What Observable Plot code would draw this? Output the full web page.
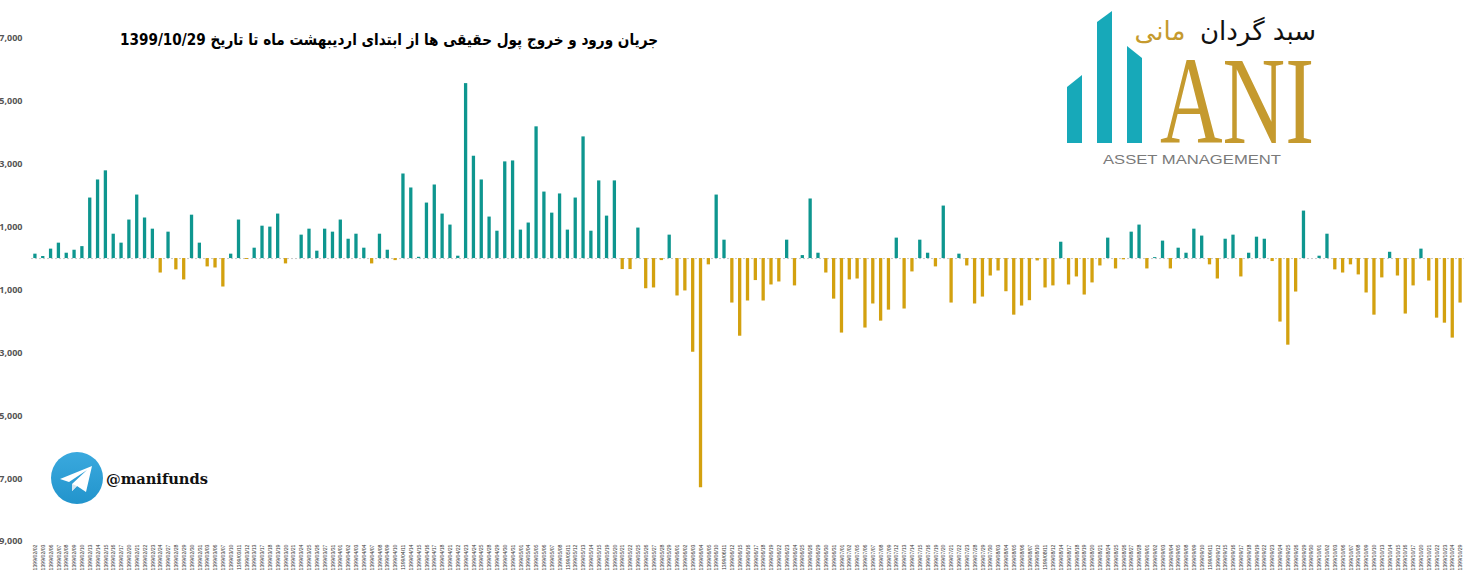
<!DOCTYPE html>
<html>
<head>
<meta charset="utf-8">
<script src="https://cdn.jsdelivr.net/npm/d3@7"></script>
<script src="https://cdn.jsdelivr.net/npm/@observablehq/plot@0.6"></script>
<style>
  html, body { margin: 0; padding: 0; background: #fff; }
  #wrap { position: relative; width: 1464px; height: 579px; overflow: hidden; }
  #chart svg { display: block; }
  .overlay { position: absolute; left: 0; top: 0; pointer-events: none; }
</style>
</head>
<body>
<div id="wrap">
  <div id="chart"></div>
  <svg class="overlay" width="1464" height="579" xmlns="http://www.w3.org/2000/svg">
    <!-- title -->
    <text x="658" y="45" direction="rtl" text-anchor="start" font-family="DejaVu Sans" font-weight="bold" font-size="16" fill="#000" textLength="538" lengthAdjust="spacingAndGlyphs">جریان ورود و خروج پول حقیقی ها از ابتدای اردیبهشت ماه تا تاریخ 1399/10/29</text>
    <!-- logo -->
    <polygon points="1067,87 1082,75 1082,143 1067,143" fill="#17a9b9"/>
    <polygon points="1097,22 1112,11 1112,143 1097,143" fill="#17a9b9"/>
    <polygon points="1127,46 1142,58 1142,143 1127,143" fill="#17a9b9"/>
    <text x="1160" y="143" font-family="Liberation Serif" font-size="124" fill="#c59a2e" textLength="154" lengthAdjust="spacingAndGlyphs">ANI</text>
    <text x="1103" y="164" font-family="Liberation Sans" font-size="13.5" fill="#7a7a7a" textLength="178" lengthAdjust="spacingAndGlyphs">ASSET MANAGEMENT</text>
    <text x="1258" y="40" text-anchor="middle" font-family="DejaVu Sans" font-size="26" fill="#111">سبد گردان</text>
    <text x="1160" y="40" text-anchor="middle" font-family="DejaVu Sans" font-size="26" fill="#c59a2e">مانی</text>
    <!-- telegram -->
    <defs>
      <linearGradient id="tg" x1="0" y1="0" x2="0" y2="1">
        <stop offset="0" stop-color="#3aa9de"/>
        <stop offset="1" stop-color="#2294cc"/>
      </linearGradient>
    </defs>
    <circle cx="77" cy="478" r="26" fill="url(#tg)"/>
    <path d="M60,479 L92,466 L86,492 L77,486 L72,491 L72,484 L87,470 L69,482 Z" fill="#ffffff"/>
    <path d="M72,484 L72,491 L77,486 Z" fill="#d5e6f0"/>
    <text x="106" y="484" font-family="DejaVu Serif" font-weight="bold" font-size="14" fill="#111" textLength="102" lengthAdjust="spacingAndGlyphs">@manifunds</text>
  </svg>
</div>
<script>
const dates = [
  "1399/02/02","1399/02/03","1399/02/06","1399/02/07","1399/02/08","1399/02/09","1399/02/10",
  "1399/02/13","1399/02/14","1399/02/15","1399/02/16","1399/02/17","1399/02/20","1399/02/21",
  "1399/02/22","1399/02/23","1399/02/24","1399/02/27","1399/02/28","1399/02/29","1399/02/30","1399/02/31",
  "1399/03/03","1399/03/06","1399/03/07","1399/03/10","1399/03/11","1399/03/12","1399/03/13",
  "1399/03/17","1399/03/18","1399/03/19","1399/03/20","1399/03/21","1399/03/24","1399/03/25",
  "1399/03/26","1399/03/27","1399/03/31",
  "1399/04/01","1399/04/02","1399/04/03","1399/04/04","1399/04/07","1399/04/08","1399/04/09",
  "1399/04/10","1399/04/11","1399/04/14","1399/04/15","1399/04/16","1399/04/17","1399/04/18",
  "1399/04/21","1399/04/22","1399/04/23","1399/04/24","1399/04/25","1399/04/28","1399/04/29",
  "1399/04/30","1399/04/31",
  "1399/05/01","1399/05/04","1399/05/05","1399/05/06","1399/05/07","1399/05/08","1399/05/11",
  "1399/05/12","1399/05/13","1399/05/14","1399/05/15","1399/05/19","1399/05/20","1399/05/21",
  "1399/05/22","1399/05/25","1399/05/26","1399/05/27","1399/05/28","1399/05/29",
  "1399/06/01","1399/06/02","1399/06/03","1399/06/04","1399/06/05","1399/06/10","1399/06/11",
  "1399/06/12","1399/06/15","1399/06/16","1399/06/17","1399/06/18","1399/06/19","1399/06/22",
  "1399/06/23","1399/06/24","1399/06/25","1399/06/26","1399/06/29","1399/06/30","1399/06/31",
  "1399/07/01","1399/07/02","1399/07/05","1399/07/06","1399/07/07","1399/07/08","1399/07/09",
  "1399/07/12","1399/07/13","1399/07/14","1399/07/15","1399/07/16","1399/07/19","1399/07/20",
  "1399/07/21","1399/07/22","1399/07/23","1399/07/28","1399/07/29","1399/07/30",
  "1399/08/03","1399/08/04","1399/08/05","1399/08/06","1399/08/07","1399/08/10","1399/08/11",
  "1399/08/12","1399/08/14","1399/08/17","1399/08/18","1399/08/19","1399/08/20","1399/08/21",
  "1399/08/24","1399/08/25","1399/08/26","1399/08/27","1399/08/28",
  "1399/09/01","1399/09/02","1399/09/03","1399/09/04","1399/09/05","1399/09/08","1399/09/09",
  "1399/09/10","1399/09/11","1399/09/12","1399/09/15","1399/09/16","1399/09/17","1399/09/18",
  "1399/09/19","1399/09/22","1399/09/23","1399/09/24","1399/09/25","1399/09/26","1399/09/29","1399/09/30",
  "1399/10/01","1399/10/02","1399/10/03","1399/10/06","1399/10/07","1399/10/08","1399/10/09",
  "1399/10/10","1399/10/13","1399/10/14","1399/10/15","1399/10/16","1399/10/17","1399/10/20",
  "1399/10/21","1399/10/22","1399/10/23","1399/10/24","1399/10/29"
];

const flows = [
  140, 65, 300, 490, 170, 265, 380, 1925, 2500, 2790,
  775, 490, 1225, 2020, 1290, 935, -460, 840, -360, -680,
  1380, 490, -265, -300, -905, 140, 1225, -30, 330, 1030,
  1000, 1415, -170, 0, 745, 935, 235, 935, 840, 1225,
  615, 775, 330, -170, 775, 265, -65, 2690, 2245, 40,
  1765, 2340, 1415, 1065, 75, 5565, 3255, 2500, 1320, 870,
  3075, 3105, 905, 1130, 4190, 2115, 1445, 2055, 905, 1925,
  3870, 870, 2470, 1350, 2470, -350, -350, 970, -960, -935,
  -65, 745, -1190, -1030, -2980, -7290, -200, 2020, 585, -1415,
  -2470, -1350, -700, -1350, -840, -745, 585, -870, 95, 1895,
  170, -460, -1290, -2370, -680, -650, -2210, -1445, -1990, -1640,
  650, -1605, -425, 585, 170, -265, 1670, -1415, 140, -235,
  -1445, -1225, -555, -395, -1055, -1800, -1510, -1340, -75, -935,
  -870, 520, -840, -585, -1160, -775, -235, 650, -330, -40,
  840, 1065, -330, 30, 555, -330, 330, 170, 935, 715,
  -200, -650, 615, 745, -585, 170, 680, 615, -95, -2020,
  -2755, -1065, 1510, 0, 75, 775, -360, -460, -200, -520,
  -1095, -1800, -615, 200, -555, -1765, -870, 300, -715, -1895,
  -2055, -2530, -1415
];

const yTicks = [7000, 5000, 3000, 1000, -1000, -3000, -5000, -7000, -9000];
const flowKinds = ["ورود", "خروج"];
const flowColors = ["#0e968f", "#d3a10f"];

const rows = dates.map((d, i) => ({date: d, value: flows[i], kind: flows[i] >= 0 ? flowKinds[0] : flowKinds[1]}));

const chart = Plot.plot({
  width: 1464,
  height: 579,
  marginLeft: 31,
  marginRight: 0,
  marginTop: 38,
  marginBottom: 38,
  style: {background: "transparent", fontFamily: "Open Sans"},
  x: {type: "band", domain: dates, paddingInner: 0.58, paddingOuter: 0.29, axis: null, label: null},
  y: {domain: [-9000, 7000], axis: null, label: null},
  color: {domain: flowKinds, range: flowColors},
  marks: [
    Plot.ruleY([0], {stroke: "#c8c8c8", strokeDasharray: "2,2", strokeWidth: 1}),
    Plot.barY(rows, {x: "date", y: "value", fill: "kind"}),
    Plot.axisX({anchor: "bottom", label: null, tickRotate: -90, tickSize: 0, tickPadding: 3, fontSize: 5.2, fill: "#333", fontFamily: "Liberation Sans"}),
    Plot.axisY({anchor: "left", label: null, ticks: yTicks, tickSize: 0, tickPadding: 9, fontSize: 9, fontWeight: "bold", fill: "#555",
      tickFormat: d => d3.format(",")(Math.abs(d))})
  ]
});
document.getElementById("chart").appendChild(chart);
</script>
</body>
</html>
